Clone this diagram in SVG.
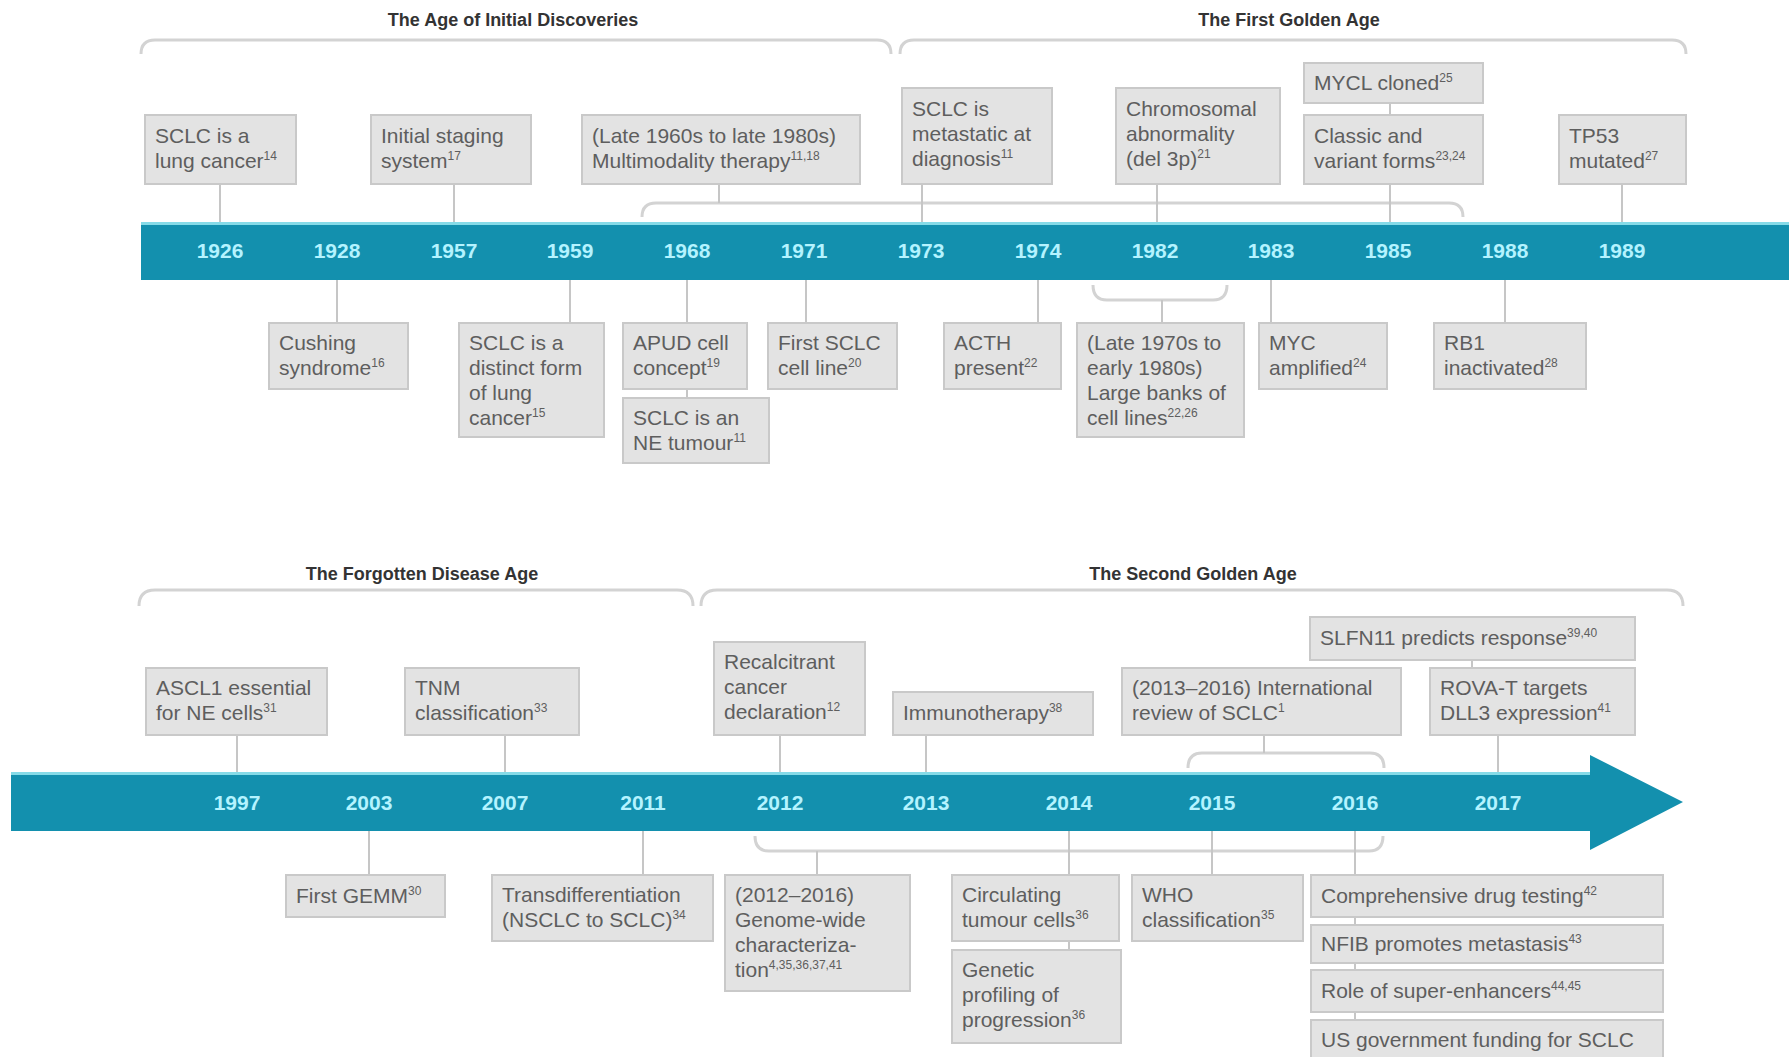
<svg xmlns="http://www.w3.org/2000/svg" width="1789" height="1057" viewBox="0 0 1789 1057">
<style>
.bg{fill:#ffffff}
.box rect{fill:#e3e3e3;stroke:#c9c9c9;stroke-width:2}
.box text{font-family:"Liberation Sans",Arial,sans-serif;font-size:21px;fill:#5e5e5e}
.sup{font-size:12px;baseline-shift:8px}
.yr{font-family:"Liberation Sans",Arial,sans-serif;font-size:21px;font-weight:bold;fill:#b4f3ff;text-anchor:middle}
.ttl{font-family:"Liberation Sans",Arial,sans-serif;font-size:18px;font-weight:bold;fill:#333333;text-anchor:middle}
.br{fill:none;stroke:#d3d3d3;stroke-width:3}
.cn{fill:none;stroke:#c6c6c6;stroke-width:2}
.band{fill:#1390ae}
.hl{stroke:#86dbe8;stroke-width:3}
</style>
<rect class="bg" x="0" y="0" width="1789" height="1057"/>

<g id="titles">
<text class="ttl" x="513" y="26">The Age of Initial Discoveries</text>
<text class="ttl" x="1289" y="26">The First Golden Age</text>
<text class="ttl" x="422" y="580">The Forgotten Disease Age</text>
<text class="ttl" x="1193" y="580">The Second Golden Age</text>
</g>

<g id="timelines">
<rect class="band" x="141" y="222" width="1648" height="58"/>
<line class="hl" x1="141" y1="223.5" x2="1789" y2="223.5"/>
<path class="band" d="M11,772 H1590 V755 L1683,802 L1590,850 V831 H11 Z"/>
<line class="hl" x1="11" y1="773.5" x2="1590" y2="773.5"/>
<g id="years-top">
<text class="yr" x="220" y="258">1926</text>
<text class="yr" x="337" y="258">1928</text>
<text class="yr" x="454" y="258">1957</text>
<text class="yr" x="570" y="258">1959</text>
<text class="yr" x="687" y="258">1968</text>
<text class="yr" x="804" y="258">1971</text>
<text class="yr" x="921" y="258">1973</text>
<text class="yr" x="1038" y="258">1974</text>
<text class="yr" x="1155" y="258">1982</text>
<text class="yr" x="1271" y="258">1983</text>
<text class="yr" x="1388" y="258">1985</text>
<text class="yr" x="1505" y="258">1988</text>
<text class="yr" x="1622" y="258">1989</text>
</g>
<g id="years-bottom">
<text class="yr" x="237" y="810">1997</text>
<text class="yr" x="369" y="810">2003</text>
<text class="yr" x="505" y="810">2007</text>
<text class="yr" x="643" y="810">2011</text>
<text class="yr" x="780" y="810">2012</text>
<text class="yr" x="926" y="810">2013</text>
<text class="yr" x="1069" y="810">2014</text>
<text class="yr" x="1212" y="810">2015</text>
<text class="yr" x="1355" y="810">2016</text>
<text class="yr" x="1498" y="810">2017</text>
</g>
</g>

<g id="connectors">
<path class="br" d="M141,54 Q141,40 155,40 H877 Q891,40 891,54"/>
<path class="br" d="M900,54 Q900,40 914,40 H1672 Q1686,40 1686,54"/>
<path class="br" d="M139,606 Q139,590 155,590 H677 Q693,590 693,606"/>
<path class="br" d="M701,606 Q701,590 717,590 H1667 Q1683,590 1683,606"/>
<path class="br" d="M642,217 Q642,203 656,203 H1449 Q1463,203 1463,217"/>
<path class="br" d="M1093,285 Q1093,300 1107,300 H1213 Q1227,300 1227,285"/>
<path class="br" d="M1188,768 Q1188,753 1202,753 H1370 Q1384,753 1384,768"/>
<path class="br" d="M755,836 Q755,851 769,851 H1369 Q1383,851 1383,836"/>
<line class="cn" x1="220" y1="184" x2="220" y2="222"/>
<line class="cn" x1="454" y1="184" x2="454" y2="222"/>
<line class="cn" x1="719" y1="184" x2="719" y2="203"/>
<line class="cn" x1="922" y1="184" x2="922" y2="222"/>
<line class="cn" x1="1157" y1="184" x2="1157" y2="222"/>
<line class="cn" x1="1390" y1="103" x2="1390" y2="115"/>
<line class="cn" x1="1390" y1="184" x2="1390" y2="222"/>
<line class="cn" x1="1622" y1="184" x2="1622" y2="222"/>
<line class="cn" x1="337" y1="280" x2="337" y2="323"/>
<line class="cn" x1="570" y1="280" x2="570" y2="323"/>
<line class="cn" x1="687" y1="280" x2="687" y2="323"/>
<line class="cn" x1="687" y1="389" x2="687" y2="398"/>
<line class="cn" x1="806" y1="280" x2="806" y2="323"/>
<line class="cn" x1="1038" y1="280" x2="1038" y2="323"/>
<line class="cn" x1="1162" y1="300" x2="1162" y2="323"/>
<line class="cn" x1="1271" y1="280" x2="1271" y2="323"/>
<line class="cn" x1="1505" y1="280" x2="1505" y2="323"/>
<line class="cn" x1="237" y1="735" x2="237" y2="772"/>
<line class="cn" x1="505" y1="735" x2="505" y2="772"/>
<line class="cn" x1="780" y1="735" x2="780" y2="772"/>
<line class="cn" x1="926" y1="735" x2="926" y2="772"/>
<line class="cn" x1="1264" y1="735" x2="1264" y2="753"/>
<line class="cn" x1="1472" y1="660" x2="1472" y2="668"/>
<line class="cn" x1="1498" y1="735" x2="1498" y2="772"/>
<line class="cn" x1="369" y1="831" x2="369" y2="875"/>
<line class="cn" x1="643" y1="831" x2="643" y2="875"/>
<line class="cn" x1="817" y1="851" x2="817" y2="875"/>
<line class="cn" x1="1069" y1="831" x2="1069" y2="875"/>
<line class="cn" x1="1069" y1="941" x2="1069" y2="950"/>
<line class="cn" x1="1212" y1="831" x2="1212" y2="875"/>
<line class="cn" x1="1355" y1="831" x2="1355" y2="875"/>
<line class="cn" x1="1355" y1="917" x2="1355" y2="925"/>
<line class="cn" x1="1355" y1="963" x2="1355" y2="970"/>
<line class="cn" x1="1355" y1="1012" x2="1355" y2="1020"/>
</g>

<g id="n1926" class="box"><rect x="145" y="115" width="151" height="69"/><text x="155" y="143">SCLC is a</text><text x="155" y="168">lung cancer<tspan class="sup">14</tspan></text></g>
<g id="n1957" class="box"><rect x="371" y="115" width="160" height="69"/><text x="381" y="143">Initial staging</text><text x="381" y="168">system<tspan class="sup">17</tspan></text></g>
<g id="n1968a" class="box"><rect x="582" y="115" width="278" height="69"/><text x="592" y="143">(Late 1960s to late 1980s)</text><text x="592" y="168">Multimodality therapy<tspan class="sup">11,18</tspan></text></g>
<g id="n1973" class="box"><rect x="902" y="88" width="150" height="96"/><text x="912" y="116">SCLC is</text><text x="912" y="141">metastatic at</text><text x="912" y="166">diagnosis<tspan class="sup">11</tspan></text></g>
<g id="n1982a" class="box"><rect x="1116" y="88" width="164" height="96"/><text x="1126" y="116">Chromosomal</text><text x="1126" y="141">abnormality</text><text x="1126" y="166">(del 3p)<tspan class="sup">21</tspan></text></g>
<g id="n1985b" class="box"><rect x="1304" y="63" width="179" height="40"/><text x="1314" y="90">MYCL cloned<tspan class="sup">25</tspan></text></g>
<g id="n1985a" class="box"><rect x="1304" y="115" width="179" height="69"/><text x="1314" y="143">Classic and</text><text x="1314" y="168">variant forms<tspan class="sup">23,24</tspan></text></g>
<g id="n1989" class="box"><rect x="1559" y="115" width="127" height="69"/><text x="1569" y="143">TP53</text><text x="1569" y="168">mutated<tspan class="sup">27</tspan></text></g>

<g id="n1928" class="box"><rect x="269" y="323" width="139" height="66"/><text x="279" y="350">Cushing</text><text x="279" y="375">syndrome<tspan class="sup">16</tspan></text></g>
<g id="n1959" class="box"><rect x="459" y="323" width="145" height="114"/><text x="469" y="350">SCLC is a</text><text x="469" y="375">distinct form</text><text x="469" y="400">of lung</text><text x="469" y="425">cancer<tspan class="sup">15</tspan></text></g>
<g id="n1968b" class="box"><rect x="623" y="323" width="124" height="66"/><text x="633" y="350">APUD cell</text><text x="633" y="375">concept<tspan class="sup">19</tspan></text></g>
<g id="n1968c" class="box"><rect x="623" y="398" width="146" height="65"/><text x="633" y="425">SCLC is an</text><text x="633" y="450">NE tumour<tspan class="sup">11</tspan></text></g>
<g id="n1971" class="box"><rect x="768" y="323" width="129" height="66"/><text x="778" y="350">First SCLC</text><text x="778" y="375">cell line<tspan class="sup">20</tspan></text></g>
<g id="n1974" class="box"><rect x="944" y="323" width="117" height="66"/><text x="954" y="350">ACTH</text><text x="954" y="375">present<tspan class="sup">22</tspan></text></g>
<g id="n1982b" class="box"><rect x="1077" y="323" width="167" height="114"/><text x="1087" y="350">(Late 1970s to</text><text x="1087" y="375">early 1980s)</text><text x="1087" y="400">Large banks of</text><text x="1087" y="425">cell lines<tspan class="sup">22,26</tspan></text></g>
<g id="n1983" class="box"><rect x="1259" y="323" width="128" height="66"/><text x="1269" y="350">MYC</text><text x="1269" y="375">amplified<tspan class="sup">24</tspan></text></g>
<g id="n1988" class="box"><rect x="1434" y="323" width="152" height="66"/><text x="1444" y="350">RB1</text><text x="1444" y="375">inactivated<tspan class="sup">28</tspan></text></g>

<g id="n1997" class="box"><rect x="146" y="668" width="181" height="67"/><text x="156" y="695">ASCL1 essential</text><text x="156" y="720">for NE cells<tspan class="sup">31</tspan></text></g>
<g id="n2007" class="box"><rect x="405" y="668" width="174" height="67"/><text x="415" y="695">TNM</text><text x="415" y="720">classification<tspan class="sup">33</tspan></text></g>
<g id="n2012a" class="box"><rect x="714" y="642" width="151" height="93"/><text x="724" y="669">Recalcitrant</text><text x="724" y="694">cancer</text><text x="724" y="719">declaration<tspan class="sup">12</tspan></text></g>
<g id="n2013" class="box"><rect x="893" y="692" width="200" height="43"/><text x="903" y="720">Immunotherapy<tspan class="sup">38</tspan></text></g>
<g id="n2015a" class="box"><rect x="1122" y="668" width="279" height="67"/><text x="1132" y="695">(2013–2016) International</text><text x="1132" y="720">review of SCLC<tspan class="sup">1</tspan></text></g>
<g id="n2017b" class="box"><rect x="1310" y="617" width="325" height="43"/><text x="1320" y="645">SLFN11 predicts response<tspan class="sup">39,40</tspan></text></g>
<g id="n2017a" class="box"><rect x="1430" y="668" width="205" height="67"/><text x="1440" y="695">ROVA-T targets</text><text x="1440" y="720">DLL3 expression<tspan class="sup">41</tspan></text></g>

<g id="n2003" class="box"><rect x="286" y="875" width="159" height="42"/><text x="296" y="903">First GEMM<tspan class="sup">30</tspan></text></g>
<g id="n2011" class="box"><rect x="492" y="875" width="221" height="66"/><text x="502" y="902">Transdifferentiation</text><text x="502" y="927">(NSCLC to SCLC)<tspan class="sup">34</tspan></text></g>
<g id="n2012b" class="box"><rect x="725" y="875" width="185" height="116"/><text x="735" y="902">(2012–2016)</text><text x="735" y="927">Genome-wide</text><text x="735" y="952">characteriza-</text><text x="735" y="977">tion<tspan class="sup">4,35,36,37,41</tspan></text></g>
<g id="n2014a" class="box"><rect x="952" y="875" width="167" height="66"/><text x="962" y="902">Circulating</text><text x="962" y="927">tumour cells<tspan class="sup">36</tspan></text></g>
<g id="n2014b" class="box"><rect x="952" y="950" width="169" height="93"/><text x="962" y="977">Genetic</text><text x="962" y="1002">profiling of</text><text x="962" y="1027">progression<tspan class="sup">36</tspan></text></g>
<g id="n2015b" class="box"><rect x="1132" y="875" width="171" height="66"/><text x="1142" y="902">WHO</text><text x="1142" y="927">classification<tspan class="sup">35</tspan></text></g>
<g id="n2016a" class="box"><rect x="1311" y="875" width="352" height="42"/><text x="1321" y="903">Comprehensive drug testing<tspan class="sup">42</tspan></text></g>
<g id="n2016b" class="box"><rect x="1311" y="925" width="352" height="38"/><text x="1321" y="951">NFIB promotes metastasis<tspan class="sup">43</tspan></text></g>
<g id="n2016c" class="box"><rect x="1311" y="970" width="352" height="42"/><text x="1321" y="998">Role of super-enhancers<tspan class="sup">44,45</tspan></text></g>
<g id="n2016d" class="box"><rect x="1311" y="1020" width="352" height="45"/><text x="1321" y="1047">US government funding for SCLC</text></g>
</svg>
